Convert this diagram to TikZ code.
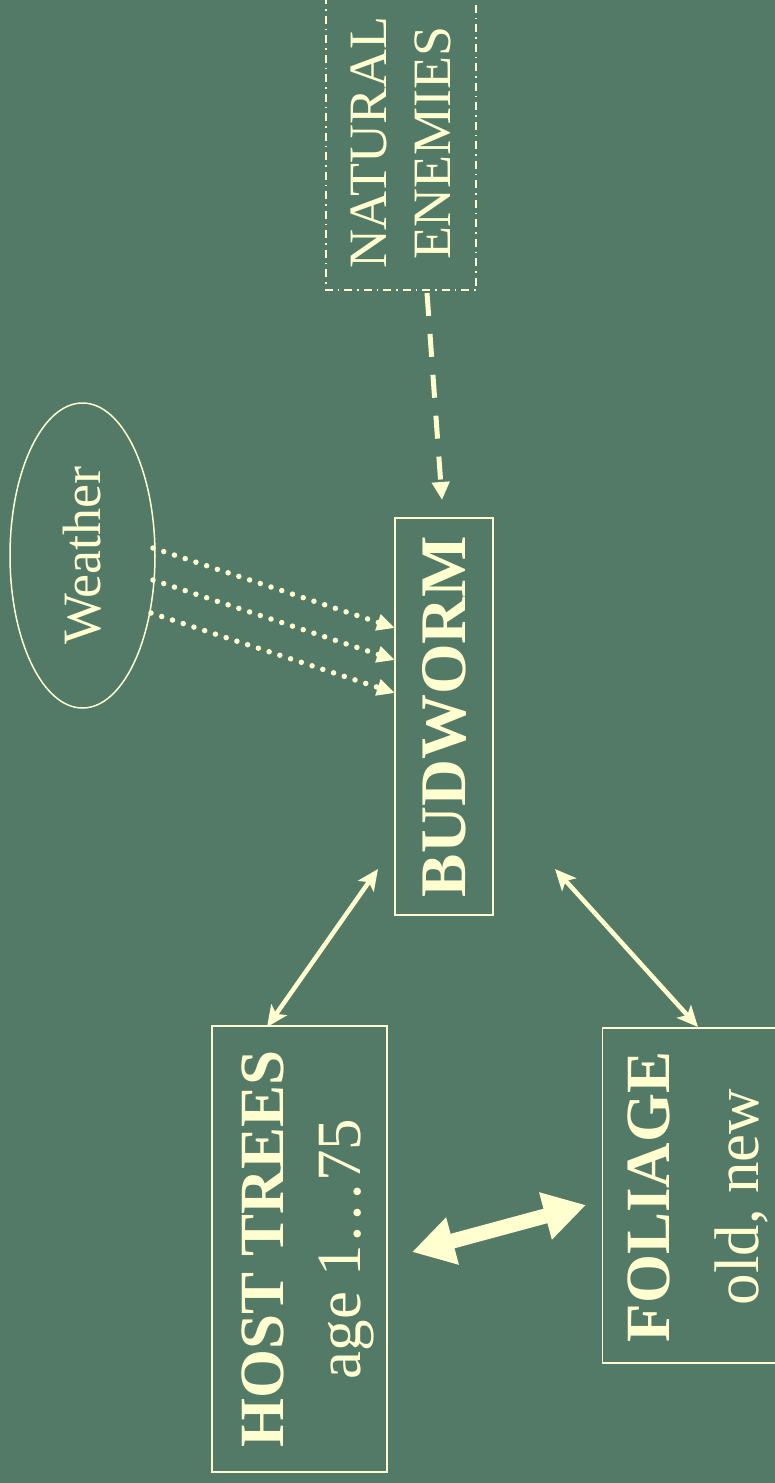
\documentclass[tikz,border=0pt]{standalone}
\usepackage{fontspec}
\setmainfont{Liberation Serif}
\usetikzlibrary{arrows.meta,shapes.geometric}
\definecolor{bg}{RGB}{82,122,102}
\definecolor{cream}{RGB}{255,255,208}
\begin{document}
\begin{tikzpicture}[x=1pt,y=-1pt,
  box/.style={draw=cream, line width=1.6pt, text=cream, inner sep=0pt, rotate=90, align=center},
  txt/.style={text=cream, inner sep=0pt, rotate=90, align=center},
  dashdotbox/.style={draw=cream, line width=1.5pt, text=cream, inner sep=0pt, rotate=90, align=center,
    dash pattern=on 8pt off 5pt on 1.5pt off 5pt},
  oval/.style={ellipse, draw=cream, line width=1.5pt, text=cream, inner sep=0pt, rotate=90},
  dotarrow/.style={draw=cream, line width=5.5pt, line cap=round, dash pattern=on 0pt off 11.3pt,
    -{Triangle[length=18pt,width=16pt]}},
  dasharrow/.style={draw=cream, line width=5pt, dash pattern=on 23pt off 18pt,
    -{Triangle[length=18pt,width=17pt]}},
  twoway/.style={draw=cream, line width=4.5pt,
    {Stealth[length=21pt,width=19pt,inset=5pt]}-{Stealth[length=21pt,width=19pt,inset=5pt]}},
  fatarrow/.style={draw=cream, line width=15pt,
    {Triangle[length=42pt,width=46pt]}-{Triangle[length=42pt,width=46pt]}}
]
\fill[bg] (0,0) rectangle (775,1483);
\useasboundingbox (0,0) rectangle (775,1483);

% nodes
\node[oval, minimum width=305pt, minimum height=145pt,
  font=\fontsize{54}{64}\selectfont] (weather) at (82.5,555.5) {Weather};
\node[dashdotbox, minimum width=294pt, minimum height=150pt,
  font=\fontsize{54}{64}\selectfont] (enemies) at (401,143) {NATURAL\\ENEMIES};
\node[box, minimum width=397pt, minimum height=98pt,
  font=\fontsize{65}{78}\selectfont\bfseries] (bud) at (444,716.5) {BUDWORM};
\node[box, minimum width=446pt, minimum height=175pt] (host) at (299.5,1249) {};
\node[txt, font=\fontsize{63}{77}\selectfont] (hosttext) at (308,1249)
  {\textbf{HOST TREES}\\age 1\ldots75};
\node[box, minimum width=335pt, minimum height=187pt] (foliage) at (696,1195.5) {};
\node[txt, font=\fontsize{63}{89}\selectfont] (foliagetext) at (698,1197)
  {\textbf{FOLIAGE}\\old, new};

% connector end points
\coordinate (w1) at (153,548);
\coordinate (w2) at (153,580);
\coordinate (w3) at (151,613);
\coordinate (b1) at (395,628);
\coordinate (b2) at (395,660);
\coordinate (b3) at (395,693);
\coordinate (e1) at (427,293);
\coordinate (b0) at (442,500);
\coordinate (bl) at (378,869);
\coordinate (br) at (555,869);
\coordinate (ht) at (267,1027);
\coordinate (ft) at (698,1027);
\coordinate (hf) at (412,1252);
\coordinate (fh) at (586,1205);

\draw[dotarrow] (w1) -- (b1);
\draw[dotarrow] (w2) -- (b2);
\draw[dotarrow] (w3) -- (b3);
\draw[dasharrow] (e1) -- (b0);
\draw[twoway] (bl) -- (ht);
\draw[twoway] (br) -- (ft);
\draw[fatarrow] (hf) -- (fh);
\end{tikzpicture}
\end{document}
